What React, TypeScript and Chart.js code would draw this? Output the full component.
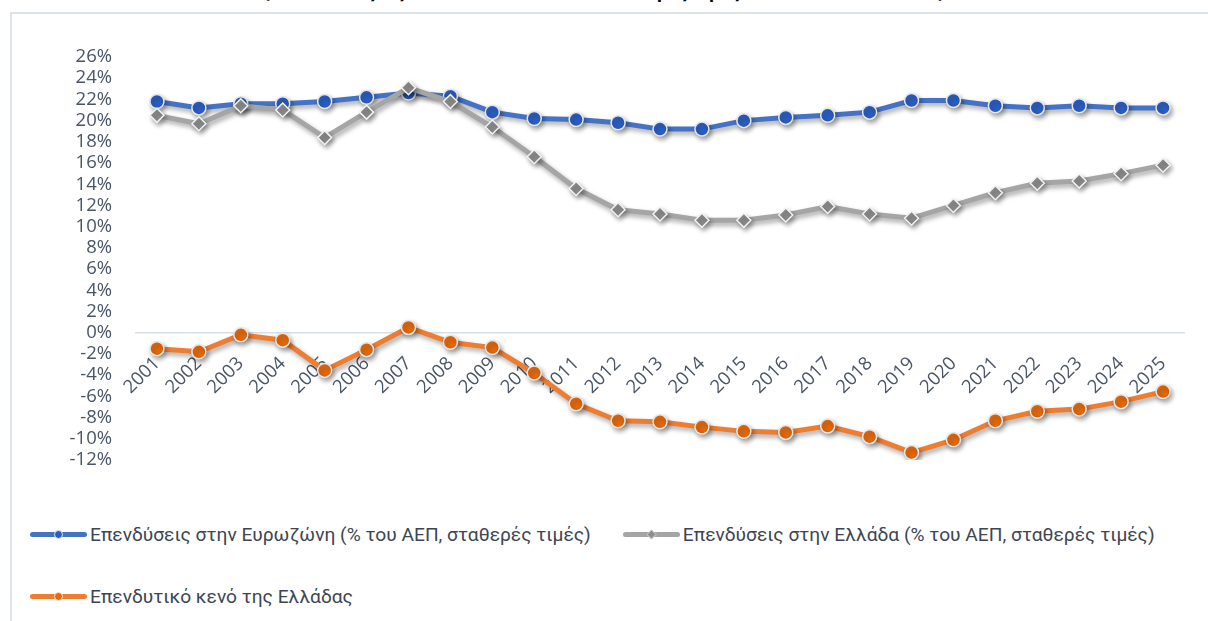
import React, { useEffect, useRef } from "react";
import { Chart, registerables } from "chart.js";

Chart.register(...registerables);

const years = ["2001","2002","2003","2004","2005","2006","2007","2008","2009","2010","2011","2012","2013","2014","2015","2016","2017","2018","2019","2020","2021","2022","2023","2024","2025"];
const eurozone = [21.8, 21.2, 21.6, 21.6, 21.8, 22.2, 22.6, 22.3, 20.8, 20.2, 20.1, 19.8, 19.2, 19.2, 20.0, 20.3, 20.5, 20.8, 21.9, 21.9, 21.4, 21.2, 21.4, 21.2, 21.2];
const greece = [20.5, 19.7, 21.4, 21.0, 18.4, 20.8, 23.1, 21.8, 19.4, 16.6, 13.6, 11.6, 11.2, 10.6, 10.6, 11.1, 11.9, 11.2, 10.8, 12.0, 13.2, 14.1, 14.3, 15.0, 15.8];
const gap = [-1.5, -1.8, -0.2, -0.7, -3.55, -1.6, 0.5, -0.9, -1.4, -3.8, -6.7, -8.3, -8.4, -8.9, -9.3, -9.4, -8.8, -9.8, -11.3, -10.1, -8.3, -7.4, -7.2, -6.5, -5.55];

const labelEuro = "Επενδύσεις στην Ευρωζώνη (% του ΑΕΠ, σταθερές τιμές)";
const labelGreece = "Επενδύσεις στην Ελλάδα (% του ΑΕΠ, σταθερές τιμές)";
const labelGap = "Επενδυτικό κενό της Ελλάδας";
const titleText = "(Επενδύσεις ως ποσοστό του ΑΕΠ, σε σταθερές τιμές, και επενδυτικό κενό)";

const AXIS_FONT = "'Open Sans', 'Noto Sans', sans-serif";
const LEGEND_FONT = "'Roboto', sans-serif";

const shadowPlugin = {
  id: "shadow",
  beforeDatasetsDraw(chart: any) {
    const ctx = chart.ctx;
    ctx.save();
    ctx.shadowColor = "rgba(0,0,0,0.35)";
    ctx.shadowBlur = 5;
    ctx.shadowOffsetX = 2;
    ctx.shadowOffsetY = 3;
  },
  afterDatasetsDraw(chart: any) {
    chart.ctx.restore();
  },
};

function Sample({ color, marker, shape }: { color: string; marker: string; shape: "circle" | "diamond" }) {
  return (
    <div style={{ position: "relative", width: 57, height: 16, flex: "0 0 auto" }}>
      <div style={{ position: "absolute", left: 0, right: 0, top: 5.5, height: 5, borderRadius: 3, background: color }} />
      <div
        style={{
          position: "absolute",
          left: 24,
          top: 3,
          width: 9,
          height: 9,
          background: marker,
          border: "1px solid #e8e8e8",
          boxSizing: "border-box",
          borderRadius: shape === "circle" ? "50%" : 0,
          transform: shape === "diamond" ? "rotate(45deg) scale(0.8)" : undefined,
        }}
      />
    </div>
  );
}

function LegendItem({ color, marker, shape, text }: any) {
  return (
    <div style={{ display: "flex", alignItems: "center", gap: 3 }}>
      <Sample color={color} marker={marker} shape={shape} />
      <span style={{ fontFamily: LEGEND_FONT, fontSize: 19.2, color: "#3d4654", whiteSpace: "nowrap" }}>{text}</span>
    </div>
  );
}

export default function App() {
  const ref = useRef<HTMLCanvasElement | null>(null);

  useEffect(() => {
    if (!ref.current) return;
    const chart = new Chart(ref.current, {
      type: "line",
      data: {
        labels: years,
        datasets: [
          {
            label: labelEuro,
            data: eurozone,
            borderColor: "#4472C4",
            borderWidth: 5,
            pointStyle: "circle",
            pointRadius: 7,
            pointBackgroundColor: "#2a5ec2",
            pointBorderColor: "#e6e6e6",
            pointBorderWidth: 1.5,
            order: 1,
          },
          {
            label: labelGreece,
            data: greece,
            borderColor: "#A5A5A5",
            borderWidth: 5,
            pointStyle: "rectRot",
            pointRadius: 7,
            pointBackgroundColor: "#8e8e8e",
            pointBorderColor: "#f2f2f2",
            pointBorderWidth: 1.5,
            order: 0,
          },
          {
            label: labelGap,
            data: gap,
            borderColor: "#ED7D31",
            borderWidth: 5,
            pointStyle: "circle",
            pointRadius: 7,
            pointBackgroundColor: "#e4690c",
            pointBorderColor: "#e6e6e6",
            pointBorderWidth: 1.5,
            order: 2,
          },
        ],
      },
      options: {
        animation: false,
        responsive: false,
        maintainAspectRatio: false,
        layout: { padding: { left: 0, right: 24, top: 57, bottom: 40 } },
        plugins: {
          legend: { display: false },
          tooltip: { enabled: false },
          title: { display: false },
        },
        scales: {
          x: {
            type: "category",
            position: { y: 0 } as any,
            offset: true,
            grid: { display: false },
            border: { display: true, color: "#d9dee5", width: 1.5 },
            ticks: {
              autoSkip: false,
              minRotation: 45,
              maxRotation: 45,
              padding: 12,
              color: "#4a5566",
              font: { family: AXIS_FONT, size: 18.5 },
            },
          },
          y: {
            min: -12,
            max: 26,
            grid: { display: false },
            border: { display: false },
            afterFit(scale: any) {
              scale.width = 136;
            },
            ticks: {
              stepSize: 2,
              autoSkip: false,
              padding: 16,
              color: "#4a5566",
              font: { family: AXIS_FONT, size: 18.5 },
              callback: (v: any) => v + "%",
            },
          },
        },
      },
      plugins: [shadowPlugin],
    });
    return () => chart.destroy();
  }, []);

  return (
    <div style={{ position: "absolute", left: 0, top: 0, width: 1208, height: 621, overflow: "hidden", background: "#fff" }}>
      <div style={{ position: "absolute", left: 10, top: 12, width: 1400, height: 2, background: "#dee3ea" }} />
      <div style={{ position: "absolute", left: 10, top: 12, width: 2, height: 800, background: "#dee3ea" }} />
      <div
        style={{
          position: "absolute",
          left: 0,
          width: 1208,
          top: -21,
          textAlign: "center",
          fontFamily: "'Open Sans', sans-serif",
          fontWeight: 700,
          fontSize: 18,
          color: "#000",
          whiteSpace: "nowrap",
          lineHeight: "24px",
        }}
      >
        {titleText}
      </div>
      <canvas ref={ref} width={1208} height={500} style={{ position: "absolute", left: 0, top: 0, width: 1208, height: 500 }} />
      <div style={{ position: "absolute", left: 30, top: 523, display: "flex", gap: 32 }}>
        <LegendItem color="#4472C4" marker="#2a5ec2" shape="circle" text={labelEuro} />
        <LegendItem color="#A5A5A5" marker="#8e8e8e" shape="diamond" text={labelGreece} />
      </div>
      <div style={{ position: "absolute", left: 30, top: 585, display: "flex" }}>
        <LegendItem color="#ED7D31" marker="#e4690c" shape="circle" text={labelGap} />
      </div>
    </div>
  );
}
